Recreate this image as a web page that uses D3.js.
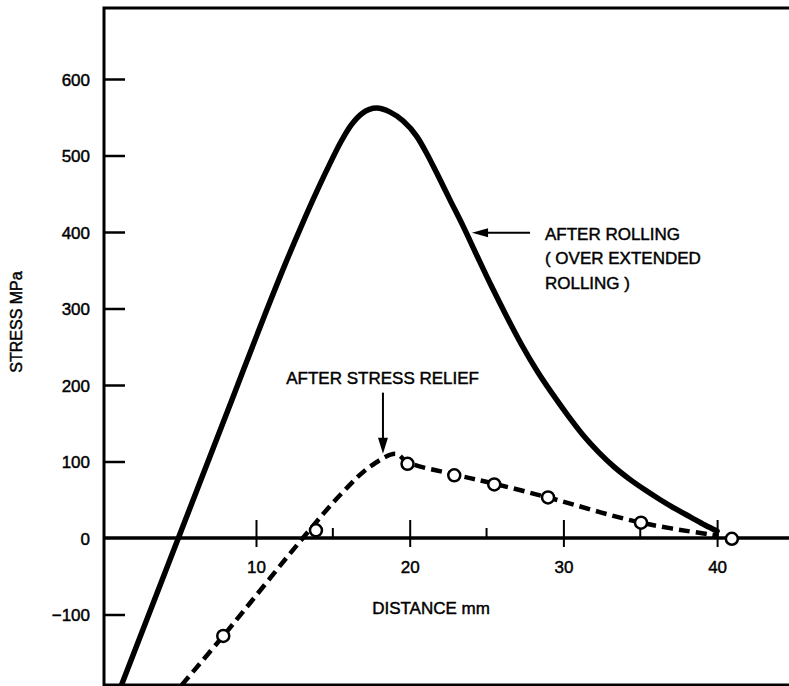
<!DOCTYPE html>
<meta charset="utf-8">
<script src="https://d3js.org/d3.v7.min.js"></script>
<style>
  body { margin: 0; background: #fff; }
  text { font-family: "Liberation Sans", Arial, Helvetica, sans-serif; fill: #000; stroke: #000; stroke-width: 0.45px; }
</style>
<body>
<div id="chart"></div>
<script>
// data (distance in mm, stress in MPa)
var rollingDist   = [1.25, 4.95, 8.5, 10.5, 11.9, 13.0, 14.0, 14.8, 15.5, 16.2, 16.9, 17.85, 18.7, 19.58, 20.46, 21.1, 21.76, 22.62, 23.49, 24.4, 25.3, 26.3, 27.3, 28.3, 29.3, 30.3, 31.3, 32.3, 33.3, 34.3, 35.3, 36.3, 37.3, 38.3, 39.2, 40.0]
var rollingStress = [-192, 0, 184, 288, 358, 410, 455, 489, 517, 540, 555, 562, 557, 545, 525, 503, 477, 442, 407, 368, 330, 290, 252, 218, 188, 160, 134, 112, 93, 77, 63, 50, 38, 27, 17, 9]

var reliefDist   = [5.17, 7.87, 13.05, 15.56, 17.4, 19.1, 19.86, 22.9, 25.5, 29.0, 35.05, 40.1]
var reliefStress = [-192, -128, 0, 58, 93, 110, 99, 83, 71, 53, 20, 3]

// measured points (open circles)
var pointDist   = [7.87, 13.9, 19.86, 22.9, 25.5, 29.0, 35.05, 40.96]
var pointStress = [-128, 10, 97, 82, 70, 53, 20, -1]

var xTicks = [10, 20, 30, 40]
var xMinorTicks = [15, 25, 35]
var yTicks = [-100, 0, 100, 200, 300, 400, 500, 600]

var width = 789
var height = 686

var svg = d3.select("#chart")
    .append("svg")
    .attr("width", width)
    .attr("height", height)

var x = d3.scaleLinear().domain([0, 40]).range([102.3, 717.1])
var y = d3.scaleLinear().domain([0, 600]).range([538, 79])

var frameLeft = 104, frameTop = 8, frameBottom = 685

// clip for the curves
svg.append("clipPath").attr("id", "plotclip")
    .append("rect")
    .attr("x", frameLeft).attr("y", frameTop)
    .attr("width", width - frameLeft).attr("height", frameBottom - frameTop)

// frame (left, top, bottom; right side runs off the page)
svg.append("path")
    .attr("d", "M" + (width + 5) + "," + frameTop + "H" + frameLeft + "V" + frameBottom + "H" + (width + 5))
    .attr("fill", "none")
    .attr("stroke", "#000")
    .attr("stroke-width", 3)

// y axis: ticks point inward
var yAxis = svg.append("g")
    .attr("transform", "translate(" + frameLeft + ",0)")
    .call(d3.axisLeft(y).tickValues(yTicks).tickSizeInner(-21).tickSizeOuter(0).tickPadding(14))
yAxis.select(".domain").remove()
yAxis.selectAll(".tick line").attr("stroke", "#000").attr("stroke-width", 2.5)
yAxis.selectAll(".tick text").style("font-size", "17px").attr("dy", "0.36em")
yAxis.selectAll(".tick").filter(function (d) { return d === 0 }).select("line").remove()

// x axis along zero stress
var x0 = y(0)
svg.append("line")
    .attr("x1", frameLeft).attr("x2", width)
    .attr("y1", x0).attr("y2", x0)
    .attr("stroke", "#000").attr("stroke-width", 3.5)

var xAxis = svg.append("g")
    .attr("transform", "translate(0," + x0 + ")")
    .call(d3.axisBottom(x).tickValues(xTicks).tickSizeOuter(0).tickPadding(0))
xAxis.select(".domain").remove()
xAxis.selectAll(".tick line").attr("y1", -18).attr("y2", 9).attr("stroke", "#000").attr("stroke-width", 2)
xAxis.selectAll(".tick text").style("font-size", "17px").attr("y", 35).attr("dy", null)

svg.append("g").selectAll("line")
    .data(xMinorTicks)
    .enter().append("line")
    .attr("x1", function (d) { return x(d) }).attr("x2", function (d) { return x(d) })
    .attr("y1", x0 - 10).attr("y2", x0)
    .attr("stroke", "#000").attr("stroke-width", 2)

// axis titles
svg.append("text")
    .attr("transform", "translate(22,322) rotate(-90)")
    .attr("text-anchor", "middle")
    .style("font-size", "16px")
    .text("STRESS MPa")

svg.append("text")
    .attr("x", 431).attr("y", 614)
    .attr("text-anchor", "middle")
    .style("font-size", "17px")
    .text("DISTANCE mm")

// curves
var rolling = rollingDist.map(function (d, i) { return [d, rollingStress[i]] })
var relief = reliefDist.map(function (d, i) { return [d, reliefStress[i]] })
var points = pointDist.map(function (d, i) { return [d, pointStress[i]] })

var line = d3.line()
    .x(function (d) { return x(d[0]) })
    .y(function (d) { return y(d[1]) })

var plot = svg.append("g").attr("clip-path", "url(#plotclip)")

plot.append("path")
    .datum(rolling)
    .attr("d", line.curve(d3.curveMonotoneX))
    .attr("fill", "none")
    .attr("stroke", "#000")
    .attr("stroke-width", 5.5)
    .attr("stroke-linecap", "round")

plot.append("path")
    .datum(relief)
    .attr("d", line.curve(d3.curveCatmullRom.alpha(0.5)))
    .attr("fill", "none")
    .attr("stroke", "#000")
    .attr("stroke-width", 4.5)
    .attr("stroke-dasharray", "11,6")

plot.selectAll("circle")
    .data(points)
    .enter().append("circle")
    .attr("cx", function (d) { return x(d[0]) })
    .attr("cy", function (d) { return y(d[1]) })
    .attr("r", 6)
    .attr("fill", "#fff")
    .attr("stroke", "#000")
    .attr("stroke-width", 2.5)

// annotations
svg.append("text")
    .attr("x", x(11.97)).attr("y", y(201))
    .style("font-size", "17px")
    .text("AFTER STRESS RELIEF")

// arrow down to the relief curve
var ax = x(18.26)
svg.append("line")
    .attr("x1", ax).attr("x2", ax)
    .attr("y1", y(190)).attr("y2", y(125))
    .attr("stroke", "#000").attr("stroke-width", 2)
svg.append("path")
    .attr("d", "M" + ax + "," + y(110) + "L" + (ax - 5) + "," + y(131) + "L" + (ax + 5) + "," + y(131) + "Z")
    .attr("fill", "#000")

var rollingLines = ["AFTER ROLLING", "( OVER EXTENDED", "ROLLING )"]
svg.append("g").selectAll("text")
    .data(rollingLines)
    .enter().append("text")
    .attr("x", x(28.8))
    .attr("y", function (d, i) { return y(390) + i * 24.5 })
    .style("font-size", "17px")
    .text(function (d) { return d })

// arrow left to the rolling curve
var ay = y(399)
svg.append("line")
    .attr("x1", x(27.83)).attr("x2", x(24.9))
    .attr("y1", ay).attr("y2", ay)
    .attr("stroke", "#000").attr("stroke-width", 2)
svg.append("path")
    .attr("d", "M" + x(24.05) + "," + ay + "L" + x(25.1) + "," + (ay - 4.5) + "L" + x(25.1) + "," + (ay + 4.5) + "Z")
    .attr("fill", "#000")
</script>
</body>
